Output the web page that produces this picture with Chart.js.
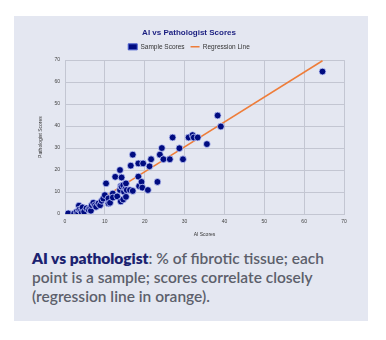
<!DOCTYPE html>
<html><head><meta charset="utf-8">
<script src="https://cdn.jsdelivr.net/npm/chart.js@4"></script>
<style>
html,body{margin:0;padding:0;background:#fff;}
#card{position:absolute;left:14px;top:16px;width:354px;height:305px;background:#e4e7f1;}
#wrap{position:absolute;left:0;top:0;width:354px;height:226px;}
#cap{position:absolute;left:18px;top:233px;width:330px;font-family:Lato,"Open Sans",sans-serif;font-size:15.5px;line-height:19px;color:#5c5f6b;font-weight:600;}
#cap b{color:#1b2270;font-weight:800;}
</style></head><body>
<div id="card"><div id="wrap"><canvas id="c"></canvas></div>
<div id="cap"><b>AI vs pathologist</b>: % of fibrotic tissue; each point is a sample; scores correlate closely (regression line in orange).</div></div>
<script>
const aiScores = [0.8,2.3,2.9,3.3,3.5,3.6,4.0,4.2,4.4,4.8,5.4,5.9,6.3,6.5,6.7,7.1,7.5,7.8,8.4,8.8,9.2,9.6,10.0,10.3,10.9,10.9,11.3,12.0,12.0,12.6,13.1,13.8,13.8,14.0,14.0,14.2,14.2,14.6,14.6,14.8,15.2,15.3,15.3,15.5,16.3,16.5,17.0,17.0,18.4,18.6,18.4,19.2,19.4,19.6,20.8,21.2,21.6,23.2,23.8,24.3,24.7,26.3,27.0,28.7,29.6,31.0,32.0,32.3,33.3,35.6,38.3,39.1,64.6];
const pathScores = [0.3,0.3,1.0,0.5,3.8,2.0,1.5,0.6,3.0,1.0,2.6,2.0,2.6,1.5,4.0,5.1,4.0,3.3,4.8,4.0,6.0,7.0,8.6,13.9,4.8,7.1,5.1,9.3,7.5,16.9,8.0,20.0,10.9,12.7,5.7,16.6,12.4,13.1,6.6,10.1,11.5,13.9,7.8,10.9,10.9,22.0,27.0,10.5,17.0,12.7,23.0,14.6,12.0,23.0,10.9,21.7,24.9,14.6,27.0,30.0,24.9,24.9,34.8,29.9,24.9,34.8,35.9,34.8,34.8,31.8,44.8,39.8,64.8];
const regX = [3.5, 64.6];
const regY = [0.5, 69.7];
const xTicks = [0,10,20,30,40,50,60,70];
const yTicks = [0,10,20,30,40,50,60,70];

const pts = aiScores.map((x,i)=>({x, y: pathScores[i]}));
const reg = regX.map((x,i)=>({x, y: regY[i]}));
const tickFont = {family:'Liberation Sans, Arial, sans-serif', size:5};
new Chart(document.getElementById('c'), {
  type:'scatter',
  data:{datasets:[
    {label:'Sample Scores', data:pts, backgroundColor:'#000b80', borderColor:'rgba(200,210,255,0.75)', borderWidth:1, pointRadius:3.4, pointHoverRadius:3.4, order:0},
    {type:'line', label:'Regression Line', data:reg, borderColor:'#ee7d3a', backgroundColor:'#ee7d3a', borderWidth:1.5, pointRadius:0, fill:false, showLine:true, order:1}
  ]},
  options:{
    responsive:true, maintainAspectRatio:false, animation:false,
    layout:{padding:{left:20,right:24,top:10,bottom:0}},
    plugins:{
      title:{display:true, text:'AI vs Pathologist Scores', color:'#1b1f80', font:{family:'Liberation Sans, Arial, sans-serif', size:8, weight:'bold'}, padding:{top:2,bottom:0}},
      legend:{labels:{color:'#333', font:{family:'Liberation Sans, Arial, sans-serif', size:6.5}, usePointStyle:true, pointStyleWidth:9, boxHeight:6, padding:6,
        generateLabels:(chart)=>{const l=Chart.defaults.plugins.legend.labels.generateLabels(chart); l[0].pointStyle='rect'; l[0].strokeStyle='#4a5fd0'; l[0].lineWidth=1; l[1].pointStyle='line'; l[1].lineWidth=1.5; return l;}}},
      tooltip:{enabled:false}
    },
    scales:{
      x:{type:'linear', min:0, max:70, afterBuildTicks:(s)=>{s.ticks=xTicks.map(v=>({value:v}));},
        grid:{color:'#c3c6d2', lineWidth:1, drawTicks:false}, border:{color:'#c3c6d2'},
        ticks:{color:'#444', font:tickFont, padding:5},
        title:{display:true, text:'AI Scores', color:'#333', font:tickFont, padding:{top:3}},
        afterFit:(s)=>{s.height=28;}},
      y:{type:'linear', min:0, max:70, afterBuildTicks:(s)=>{s.ticks=yTicks.map(v=>({value:v}));},
        grid:{color:'#c3c6d2', lineWidth:1, drawTicks:false}, border:{color:'#c3c6d2'},
        ticks:{color:'#444', font:tickFont, padding:5},
        title:{display:true, text:'Pathologist Scores', color:'#333', font:tickFont, padding:{bottom:6}},
        afterFit:(s)=>{s.width=31;}}
    }
  }
});
</script></body></html>
